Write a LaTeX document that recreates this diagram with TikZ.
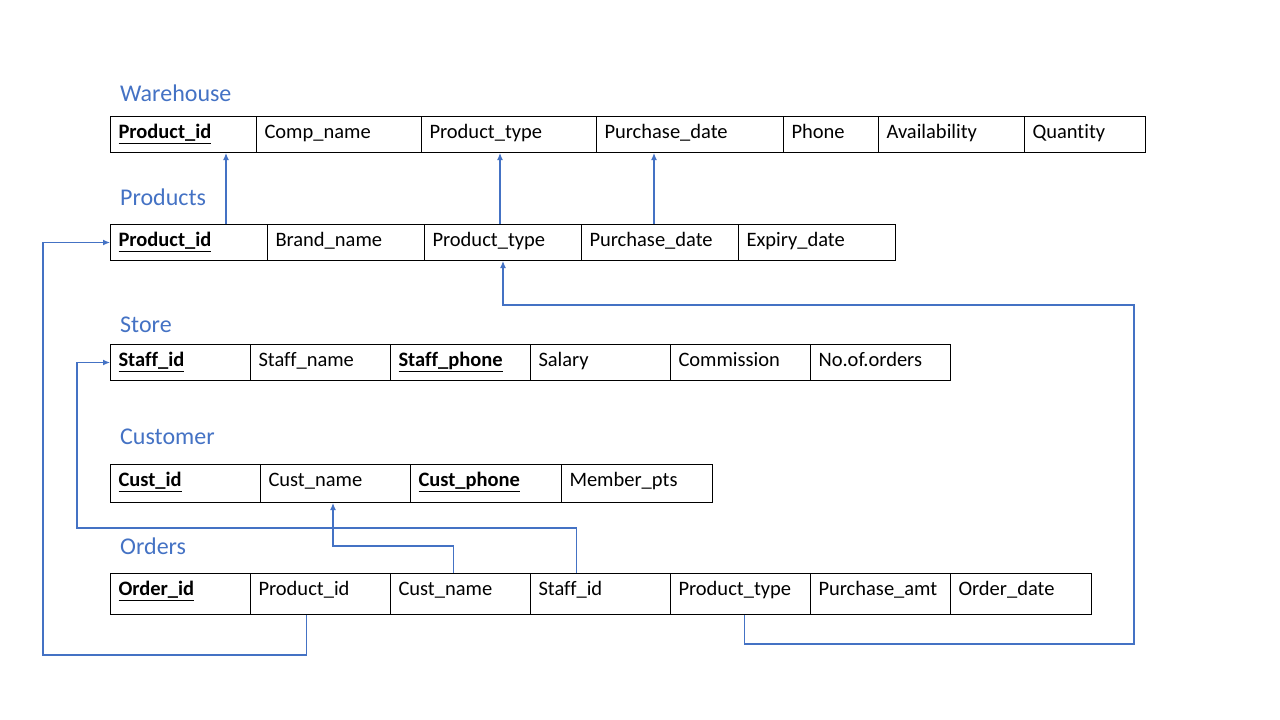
\documentclass[tikz,border=0pt]{standalone}
\usepackage{fontspec}
\setmainfont{Carlito}[Ligatures={NoCommon}]
\usetikzlibrary{arrows.meta}
\definecolor{tblue}{HTML}{4472C4}

\begin{document}
\begin{tikzpicture}[x=1pt,y=-1pt,
    cell/.style 2 args={draw, line width=1pt, anchor=north west,
      inner xsep=8pt, inner ysep=0pt, align=left,
      text width=#1pt-16pt, minimum height=#2pt,
      text height=15pt, text depth=#2pt-29pt,
      font=\fontsize{20.5}{24}\selectfont},
    title/.style={anchor=base west, inner sep=0pt, text=tblue,
      font=\fontsize{24}{28}\selectfont},
    link/.style={draw=tblue, line width=1.2pt,
      -{Latex[length=7pt,width=6pt]}}]
      \useasboundingbox (0,0) rectangle (1280,720);

      \node[title] (t-wh) at (120,101) {Warehouse};
      \node[title] (t-pr) at (120,205) {Products};
      \node[title] (t-st) at (120,332) {Store};
      \node[title] (t-cu) at (120,444) {Customer};
      \node[title] (t-or) at (120,554) {Orders};

      \node[cell={146}{36}] (wh-pid)   at (110,116)  {\underline{\textbf{Product\_id}}};
      \node[cell={165}{36}] (wh-comp)  at (256,116)  {Comp\_name};
      \node[cell={175}{36}] (wh-ptype) at (421,116)  {Product\_type};
      \node[cell={187}{36}] (wh-pdate) at (596,116)  {Purchase\_date};
      \node[cell={95}{36}]  (wh-phone) at (783,116)  {Phone};
      \node[cell={146}{36}] (wh-avail) at (878,116)  {Availability};
      \node[cell={121}{36}] (wh-qty)   at (1024,116) {Quantity};

      \node[cell={157}{36}] (pr-pid)   at (110,224)  {\underline{\textbf{Product\_id}}};
      \node[cell={157}{36}] (pr-brand) at (267,224)  {Brand\_name};
      \node[cell={157}{36}] (pr-ptype) at (424,224)  {Product\_type};
      \node[cell={157}{36}] (pr-pdate) at (581,224)  {Purchase\_date};
      \node[cell={157}{36}] (pr-exp)   at (738,224)  {Expiry\_date};

      \node[cell={140}{36}] (st-sid)   at (110,344)  {\underline{\textbf{Staff\_id}}};
      \node[cell={140}{36}] (st-sname) at (250,344)  {Staff\_name};
      \node[cell={140}{36}] (st-phone) at (390,344)  {\underline{\textbf{Staff\_phone}}};
      \node[cell={140}{36}] (st-sal)   at (530,344)  {Salary};
      \node[cell={140}{36}] (st-comm)  at (670,344)  {Commission};
      \node[cell={140}{36}] (st-nord)  at (810,344)  {No.of.orders};

      \node[cell={150}{38}] (cu-cid)   at (110,464)  {\underline{\textbf{Cust\_id}}};
      \node[cell={150}{38}] (cu-cname) at (260,464)  {Cust\_name};
      \node[cell={151}{38}] (cu-phone) at (410,464)  {\underline{\textbf{Cust\_phone}}};
      \node[cell={151}{38}] (cu-pts)   at (561,464)  {Member\_pts};

      \node[cell={140}{41}] (or-oid)   at (110,573)  {\underline{\textbf{Order\_id}}};
      \node[cell={140}{41}] (or-pid)   at (250,573)  {Product\_id};
      \node[cell={140}{41}] (or-cname) at (390,573)  {Cust\_name};
      \node[cell={140}{41}] (or-sid)   at (530,573)  {Staff\_id};
      \node[cell={140}{41}] (or-ptype) at (670,573)  {Product\_type};
      \node[cell={140}{41}] (or-amt)   at (810,573)  {Purchase\_amt};
      \node[cell={141}{41}] (or-date)  at (950,573)  {Order\_date};

      \coordinate (c1) at (43,655);
      \coordinate (c2) at (1134,644);
      \coordinate (c3) at (1134,305);
      \coordinate (c4) at (77,528);
      \coordinate (c5) at (333,546);

      \draw[link] (pr-pid.north -| 226,0)   -- (wh-pid.south -| 226,0);
      \draw[link] (pr-ptype.north -| 500,0) -- (wh-ptype.south -| 500,0);
      \draw[link] (pr-pdate.north -| 654,0) -- (wh-pdate.south -| 654,0);
      \draw[link] ([xshift=-14pt]or-pid.south) |- (c1) |- (pr-pid.west);
      \draw[link] ([xshift=4pt]or-ptype.south) |- (c2) -- (c3) -| (pr-ptype.south);
      \draw[link] ([xshift=-24pt]or-sid.north) |- (c4) |- (st-sid.west);
      \draw[link] ([xshift=-7pt]or-cname.north) |- (c5) -- (c5 |- cu-cname.south);
    \end{tikzpicture}
\end{document}
